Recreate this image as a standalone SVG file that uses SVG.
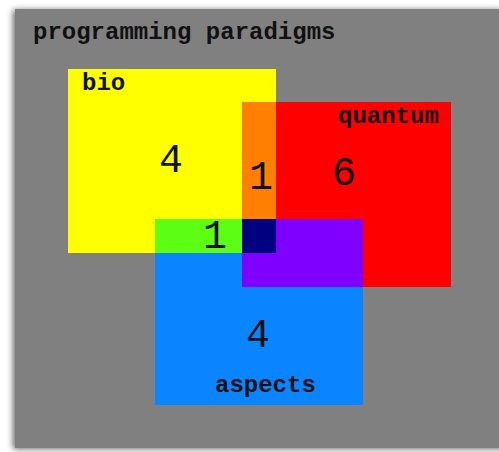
<svg xmlns="http://www.w3.org/2000/svg" width="499" height="452" viewBox="0 0 499 452">
  <defs>
    <filter id="shadow" x="-10%" y="-10%" width="120%" height="120%">
      <feGaussianBlur in="SourceAlpha" stdDeviation="3"/>
      <feOffset dx="-2" dy="1" result="b"/>
      <feComponentTransfer><feFuncA type="linear" slope="0.6"/></feComponentTransfer>
      <feMerge><feMergeNode/><feMergeNode in="SourceGraphic"/></feMerge>
    </filter>
  </defs>
  <style>
    .lbl { font-family: "Liberation Mono", "Courier New", monospace; font-weight: bold; font-size: 24px; fill: #111; }
    .num { font-family: "Liberation Mono", "Courier New", monospace; font-size: 40px; fill: #111; text-anchor: middle; }
  </style>
  <rect x="0" y="0" width="499" height="452" fill="#ffffff"/>
  <rect x="15" y="9" width="490" height="439" fill="#808080" filter="url(#shadow)"/>
  <text class="lbl" x="33" y="39">programming paradigms</text>

  <g id="bio">
    <rect x="68" y="69" width="208" height="184" fill="#ffff00"/>
    <text class="lbl" x="82" y="90">bio</text>
    <text class="num" x="171" y="172">4</text>
  </g>
  <g id="quantum">
    <rect x="276" y="102" width="175" height="185" fill="#ff0000"/>
    <text class="lbl" x="338" y="123">quantum</text>
    <text class="num" x="344" y="185">6</text>
  </g>
  <g id="aspects">
    <rect x="155" y="253" width="208" height="152" fill="#0a84ff"/>
    <text class="lbl" x="215" y="392">aspects</text>
    <text class="num" x="258" y="347">4</text>
  </g>
  <g id="bio-quantum">
    <rect x="242" y="102" width="34" height="117" fill="#ff7f00"/>
    <text class="num" x="261" y="189">1</text>
  </g>
  <g id="bio-aspects">
    <rect x="155" y="219" width="87" height="34" fill="#5cff14"/>
    <text class="num" x="215" y="248">1</text>
  </g>
  <g id="quantum-aspects">
    <rect x="276" y="219" width="87" height="68" fill="#8000ff"/>
    <rect x="242" y="253" width="34" height="34" fill="#8000ff"/>
  </g>
  <g id="all">
    <rect x="242" y="219" width="34" height="34" fill="#000080"/>
  </g>
  <g id="connectors"/>
</svg>
